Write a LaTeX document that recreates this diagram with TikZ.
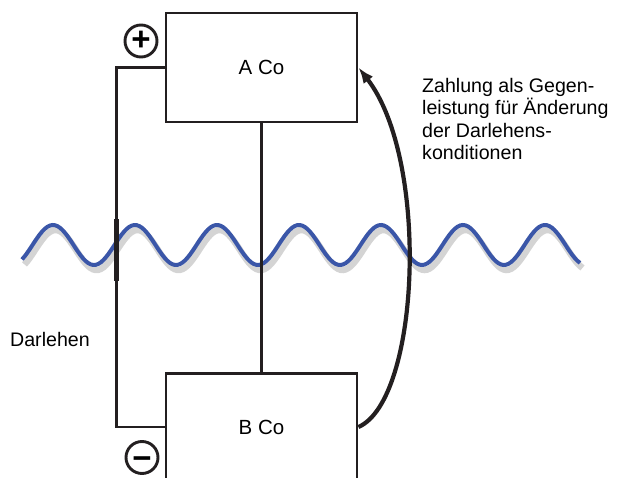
\documentclass[tikz,border=0pt]{standalone}
\usepackage{fontspec}
\setmainfont{Liberation Sans}
\usepackage{tikz}
\usetikzlibrary{arrows.meta,positioning,calc}
\definecolor{wireblack}{RGB}{35,31,32}
\definecolor{waveblue}{RGB}{58,86,168}
\tikzset{
  cobox/.style  ={rectangle, draw=wireblack, line width=2.9pt, fill=white,
                  minimum width=191pt, minimum height=109pt, inner sep=0pt,
                  font=\fontsize{20.5}{24}\selectfont},
  wire/.style   ={draw=wireblack, line width=2.9pt},
  flow/.style   ={-{Latex[length=16pt,width=12pt]}, line width=4.2pt, draw=wireblack},
  pole/.style   ={circle, draw=wireblack, line width=2.9pt, minimum size=32pt,
                  inner sep=0pt, font=\fontsize{33}{33}\selectfont\bfseries},
  wave/.style   ={draw=waveblue, line width=4pt},
  waveshade/.style={draw=black, opacity=0.17, line width=6.5pt},
  lbl/.style    ={font=\fontsize{19.6}{22.5}\selectfont, align=left, inner sep=0pt}
}
\begin{document}
\begin{tikzpicture}[x=1pt,y=-1pt]
\useasboundingbox (0,0) rectangle (624,478);
% border line
\draw[waveshade, shift={(2.5,5)}] plot[domain=22:580, samples=220] (\x,{245-20*sin(4.390244*(\x-32.5))});
\draw[wave] plot[domain=22:580, samples=220] (\x,{245-20*sin(4.390244*(\x-32.5))});
% companies
\node[cobox] (aco) at (261.5,67.5) {A Co};
\node[cobox, minimum height=130pt, anchor=north] (bco) at (261.5,372) {};
\node[lbl, font=\fontsize{20.5}{24}\selectfont] (bcolabel) at (261.5,427) {B Co};
\node[pole] (plus) at (141,41) {+};
\node[pole] (minus) at (142,457.5) {\raisebox{-12pt}[0pt][0pt]{−}};
% wires
\draw[wire] (aco.south) -- (bco.north);
\draw[wire] (aco.west) -- ++(-48,0) coordinate (ltop) |- (bcolabel -| bco.west);
\draw[wire, line width=5.2pt] ($(ltop)+(0,152)$) -- ++(0,62);
% payment
\draw[flow] (bcolabel -| bco.east) .. controls (420,400) and (430,160) .. (aco.east);
\node[lbl, anchor=base west] (loan) at (10,347) {Darlehen};
\node[lbl, anchor=north west] (pay) at (422,78) {Zahlung als Gegen-\\leistung für Änderung\\der Darlehens-\\konditionen};
\end{tikzpicture}
\end{document}
